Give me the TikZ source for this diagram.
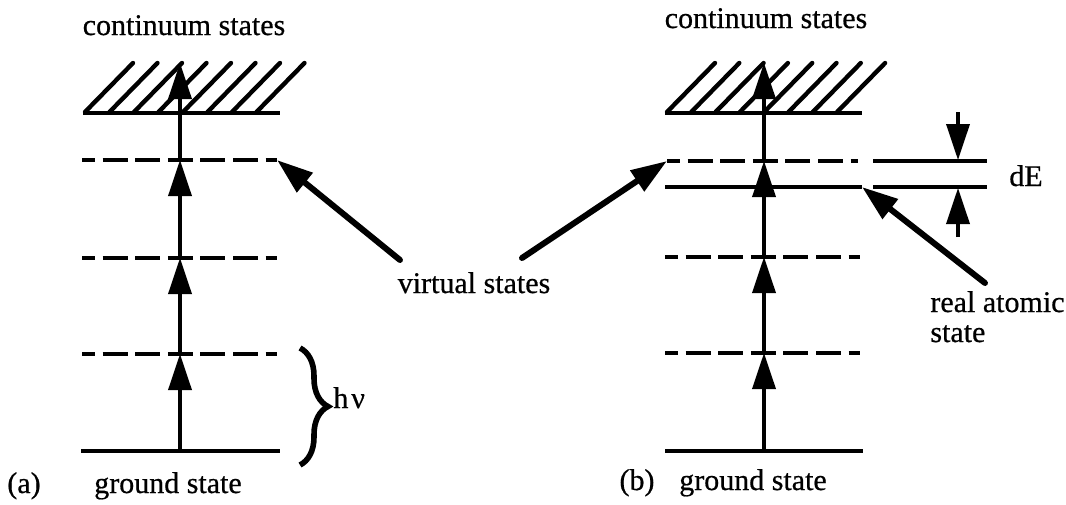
\documentclass[tikz,border=0pt]{standalone}
\usepackage{fontspec}
\setmainfont{Liberation Serif}
\newfontfamily\scanfont{Liberation Serif}[FakeBold=0.6]
\usetikzlibrary{arrows.meta,decorations.pathreplacing}
\begin{document}
\begin{tikzpicture}[x=0.5pt,y=-0.5pt,
  level/.style={line width=2.2pt},
  virt/.style={line width=2.2pt, dash pattern=on 12.5pt off 3.8pt, dash phase=6pt},
  hatchline/.style={line width=2.2pt, line cap=round},
  uparrow/.style={line width=1.8pt, -{Triangle[length=18pt,width=11.5pt]}},
  pointer/.style={line width=3pt, line cap=round, -{Triangle[length=18pt,width=12pt]}},
  lbl/.style={font=\scanfont\fontsize{15}{18}\selectfont, inner sep=0pt},
]
\useasboundingbox (0,0) rectangle (1066,504);

% ---------------- (a) ----------------
% continuum hatch
\foreach \k in {0,...,7} {
  \draw[hatchline] (85+24.5*\k,112) -- (133+24.5*\k,63);
}
\coordinate (aCl) at (83,113); \coordinate (aCr) at (280,113);
\draw[level] (aCl) -- (aCr);
% virtual levels
\coordinate (a1l) at (82,160); \coordinate (a1r) at (277,160);
\coordinate (a2l) at (82,258); \coordinate (a2r) at (277,258);
\coordinate (a3l) at (82,354); \coordinate (a3r) at (277,354);
\draw[virt] (a1l) -- (a1r);
\draw[virt] (a2l) -- (a2r);
\draw[virt] (a3l) -- (a3r);
% ground
\coordinate (aGl) at (81,451); \coordinate (aGr) at (280,451);
\draw[level] (aGl) -- (aGr);
% vertical transitions
\coordinate (ag) at (180,451);
\coordinate (a3) at (180,354);
\coordinate (a2) at (180,258);
\coordinate (a1) at (180,160);
\coordinate (at) at (180,63);
\draw[uparrow] (ag) -- (a3);
\draw[uparrow] (a3) -- (a2);
\draw[uparrow] (a2) -- (a1);
\draw[uparrow] (a1) -- (at);
% brace
\coordinate (brT) at (300,348); \coordinate (brB) at (300,465);
\draw[line width=2.8pt, decorate, decoration={brace, amplitude=14pt}] (brT) -- (brB);
\node[lbl, anchor=base west] (hnu) at (333,408) {h\kern1.5pt ν};
% labels
\node[lbl, anchor=base] (contA) at (184,35) {continuum states};
\node[lbl, anchor=base] (groundA) at (168,493) {ground state};
\node[lbl, anchor=base] (labA) at (24,493) {(a)};

% ---------------- shared label ----------------
\node[lbl, anchor=base] (virt) at (474,293) {virtual states};
\coordinate (vL) at (400,260);
\coordinate (vR) at (522,258);
\draw[pointer] (vL) -- (a1r);

% ---------------- (b) ----------------
\foreach \k in {0,...,7} {
  \draw[hatchline] (667+24.3*\k,112) -- (715+24.3*\k,63);
}
\coordinate (bCl) at (665,113); \coordinate (bCr) at (862,113);
\draw[level] (bCl) -- (bCr);
\coordinate (b1l) at (667,161); \coordinate (b1r) at (858,161);
\coordinate (bRl) at (665,187); \coordinate (bRr) at (862,187);
\coordinate (b2l) at (665,257); \coordinate (b2r) at (860,257);
\coordinate (b3l) at (665,353); \coordinate (b3r) at (860,353);
\draw[virt] (b1l) -- (b1r);
\draw[level] (bRl) -- (bRr);
\draw[virt] (b2l) -- (b2r);
\draw[virt] (b3l) -- (b3r);
\coordinate (bGl) at (665,451); \coordinate (bGr) at (863,451);
\draw[level] (bGl) -- (bGr);
\coordinate (bg) at (764,451);
\coordinate (b3) at (764,353);
\coordinate (b2) at (764,257);
\coordinate (b1) at (764,161);
\coordinate (bt) at (764,63);
\draw[uparrow] (bg) -- (b3);
\draw[uparrow] (b3) -- (b2);
\draw[uparrow] (b2) -- (b1);
\draw[uparrow] (b1) -- (bt);
\draw[pointer] (vR) -- (b1l);
% dE marker
\coordinate (dEu1) at (873,161); \coordinate (dEu2) at (987,161);
\coordinate (dEl1) at (873,187); \coordinate (dEl2) at (987,187);
\draw[level] (dEu1) -- (dEu2);
\draw[level] (dEl1) -- (dEl2);
\coordinate (dEtop) at (958,112); \coordinate (dEtip1) at (958,160);
\coordinate (dEbot) at (958,237); \coordinate (dEtip2) at (958,188);
\draw[uparrow] (dEtop) -- (dEtip1);
\draw[uparrow] (dEbot) -- (dEtip2);
\node[lbl, anchor=base] (dE) at (1026,186) {dE};
% real atomic state
\coordinate (rT) at (985,283);
\draw[pointer] (rT) -- (bRr);
\node[lbl, anchor=base west] (real1) at (930,312) {real atomic};
\node[lbl, anchor=base west] (real2) at (930,342) {state};
% labels
\node[lbl, anchor=base] (contB) at (766,28) {continuum states};
\node[lbl, anchor=base] (groundB) at (753,490) {ground state};
\node[lbl, anchor=base] (labB) at (637,490) {(b)};
\end{tikzpicture}
\end{document}
